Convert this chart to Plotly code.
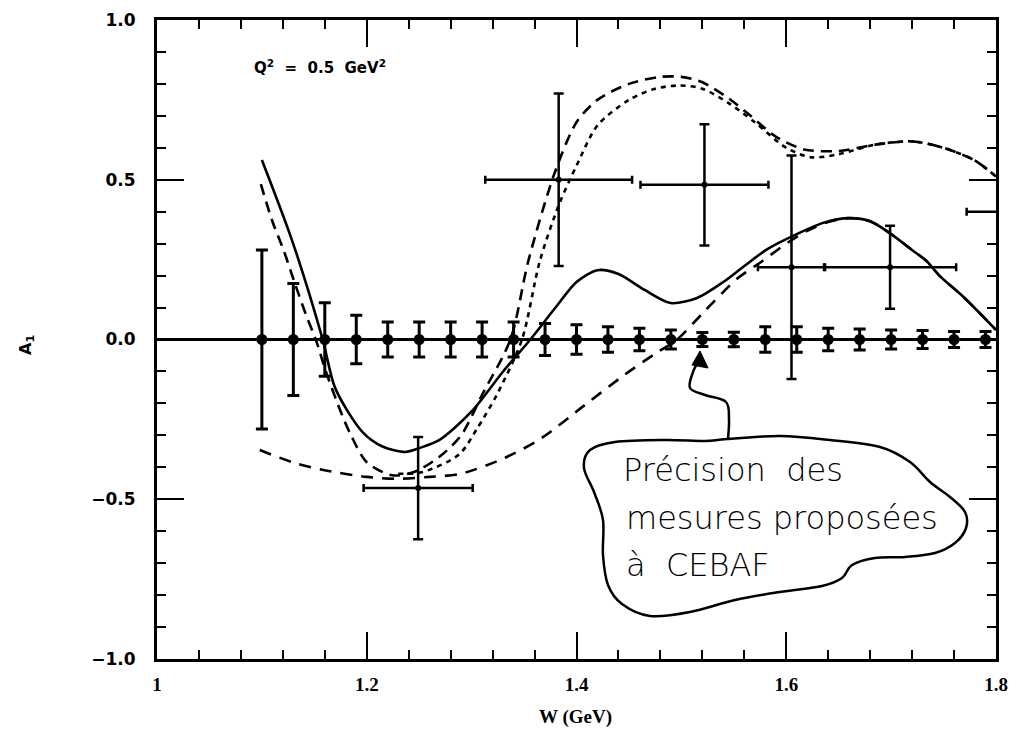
import plotly.graph_objects as go
import numpy as np

# ---------------- data ----------------
# projected precision of proposed CEBAF measurements (A1 = 0)
prec_W = [1.10, 1.13, 1.16, 1.19, 1.22, 1.25, 1.28, 1.31, 1.34, 1.37, 1.40, 1.43,
          1.46, 1.49, 1.52, 1.55, 1.58, 1.61, 1.64, 1.67, 1.70, 1.73, 1.76, 1.79]
prec_A = [0.0] * 24
prec_err = [0.28, 0.175, 0.115, 0.076, 0.055, 0.055, 0.055, 0.055, 0.055, 0.05, 0.046, 0.04,
            0.035, 0.03, 0.022, 0.023, 0.04, 0.04, 0.035, 0.033, 0.03, 0.028, 0.025, 0.025]

# existing data points
data_W = [1.249, 1.383, 1.522, 1.605, 1.699, 1.83]
data_A = [-0.465, 0.50, 0.484, 0.226, 0.226, 0.40]
data_dW = [0.052, 0.07, 0.061, 0.032, 0.063, 0.058]
data_dA = [0.16, 0.27, 0.19, 0.35, 0.13, 0.15]

# model curves
solid_W = [1.100, 1.129, 1.158, 1.170, 1.196, 1.215, 1.237, 1.250, 1.269, 1.300, 1.330, 1.356,
           1.380, 1.400, 1.420, 1.440, 1.465, 1.490, 1.515, 1.540, 1.560, 1.582, 1.610, 1.635,
           1.660, 1.680, 1.700, 1.720, 1.734, 1.746, 1.770, 1.800]
solid_A = [0.562, 0.308, 0.000, -0.153, -0.290, -0.335, -0.352, -0.340, -0.315, -0.225, -0.100, 0.000,
           0.100, 0.180, 0.217, 0.205, 0.155, 0.114, 0.130, 0.180, 0.230, 0.283, 0.330, 0.365,
           0.380, 0.370, 0.330, 0.280, 0.245, 0.200, 0.130, 0.030]

longdash_W = [1.099, 1.110, 1.121, 1.131, 1.142, 1.152, 1.161, 1.174, 1.185, 1.200, 1.224, 1.245,
              1.269, 1.290, 1.310, 1.337, 1.354, 1.379, 1.400, 1.420, 1.450, 1.480, 1.500, 1.520,
              1.545, 1.566, 1.590, 1.617, 1.650, 1.685, 1.720, 1.750, 1.780, 1.800]
longdash_A = [0.486, 0.370, 0.277, 0.180, 0.078, -0.006, -0.100, -0.216, -0.300, -0.384, -0.425, -0.415,
              -0.368, -0.300, -0.173, 0.000, 0.245, 0.520, 0.680, 0.750, 0.800, 0.822, 0.822, 0.805,
              0.755, 0.700, 0.635, 0.595, 0.590, 0.610, 0.620, 0.600, 0.560, 0.510]

dotted_W = [1.230, 1.253, 1.288, 1.305, 1.324, 1.348, 1.365, 1.383, 1.400, 1.420, 1.450, 1.475,
            1.498, 1.520, 1.545, 1.570, 1.600, 1.624, 1.650, 1.685, 1.720, 1.750, 1.780, 1.800]
dotted_A = [-0.420, -0.415, -0.360, -0.280, -0.173, 0.000, 0.245, 0.420, 0.544, 0.670, 0.750, 0.785,
            0.795, 0.785, 0.740, 0.680, 0.600, 0.570, 0.580, 0.610, 0.620, 0.600, 0.560, 0.510]

dash_W = [1.098, 1.130, 1.161, 1.200, 1.227, 1.260, 1.290, 1.332, 1.366, 1.408, 1.446, 1.477,
          1.496, 1.522, 1.553, 1.577, 1.600, 1.620, 1.640, 1.660, 1.680, 1.700, 1.720, 1.734,
          1.746, 1.770, 1.800]
dash_A = [-0.346, -0.385, -0.410, -0.430, -0.436, -0.430, -0.420, -0.370, -0.310, -0.205, -0.110, -0.040,
          0.000, 0.088, 0.190, 0.245, 0.300, 0.340, 0.368, 0.380, 0.370, 0.330, 0.280, 0.245,
          0.200, 0.130, 0.030]

x_ticks = [1.0, 1.2, 1.4, 1.6, 1.8]
x_ticktext = ["1", "1.2", "1.4", "1.6", "1.8"]
y_ticks = [-1.0, -0.5, 0.0, 0.5, 1.0]
y_ticktext = ["\u22121.0", "\u22120.5", "0.0", "0.5", "1.0"]

note_lines = ["Précision  des", "mesures proposées", "à  CEBAF"]
q2_label = "Q<sup>2</sup>  =  0.5  GeV<sup>2</sup>"

# ---------------- layout geometry ----------------
W_PX, H_PX = 1010, 731
ML, MR, MT, MB = 157, 14, 20, 72
XR = [1.0, 1.8]
YR = [-1.0, 1.0]


def px2d(px, py):
    """Convert page pixel to data coords (for hand-drawn decorations only)."""
    pw = W_PX - ML - MR
    ph = H_PX - MT - MB
    x = XR[0] + (px - ML) / pw * (XR[1] - XR[0])
    y = YR[1] - (py - MT) / ph * (YR[1] - YR[0])
    return x, y


def smooth_path(pts, closed=False):
    """Catmull-Rom spline through points -> SVG cubic path."""
    P = [np.array(p, dtype=float) for p in pts]
    n = len(P)
    segs = []
    rng = range(n) if closed else range(n - 1)
    for i in rng:
        p0 = P[(i - 1) % n] if closed or i > 0 else P[i]
        p1 = P[i]
        p2 = P[(i + 1) % n]
        p3 = P[(i + 2) % n] if closed or i + 2 < n else P[(i + 1) % n]
        c1 = p1 + (p2 - p0) / 6.0
        c2 = p2 - (p3 - p1) / 6.0
        segs.append(f"C {c1[0]:.5f},{c1[1]:.5f} {c2[0]:.5f},{c2[1]:.5f} {p2[0]:.5f},{p2[1]:.5f}")
    path = f"M {P[0][0]:.5f},{P[0][1]:.5f} " + " ".join(segs)
    if closed:
        path += " Z"
    return path


fig = go.Figure()

line_w = 2.6
fig.add_trace(go.Scatter(x=solid_W, y=solid_A, mode="lines",
                         line=dict(color="black", width=line_w, shape="spline", smoothing=0.8)))
fig.add_trace(go.Scatter(x=longdash_W, y=longdash_A, mode="lines",
                         line=dict(color="black", width=line_w, dash="11px,7px", shape="spline", smoothing=0.8)))
fig.add_trace(go.Scatter(x=dotted_W, y=dotted_A, mode="lines",
                         line=dict(color="black", width=line_w, dash="5px,5px", shape="spline", smoothing=0.8)))
fig.add_trace(go.Scatter(x=dash_W, y=dash_A, mode="lines",
                         line=dict(color="black", width=line_w, dash="12px,9px", shape="spline", smoothing=0.8)))

# precision points
fig.add_trace(go.Scatter(x=prec_W, y=prec_A, mode="markers",
                         marker=dict(color="black", size=11),
                         error_y=dict(type="data", array=prec_err, color="black", thickness=3, width=6)))

# existing data
fig.add_trace(go.Scatter(x=data_W, y=data_A, mode="markers",
                         marker=dict(color="black", size=6),
                         error_x=dict(type="data", array=data_dW, color="black", thickness=2.5, width=4),
                         error_y=dict(type="data", array=data_dA, color="black", thickness=2.5, width=5)))

# ---------------- callout bubble & arrow ----------------
bubble_px = [(727, 439), (780, 436), (830, 440), (880, 447), (910, 462), (930, 482), (950, 497),
             (965, 512), (966, 528), (955, 543), (935, 553), (905, 557), (875, 558), (852, 565),
             (842, 578), (822, 586), (780, 592), (735, 600), (690, 612), (650, 616), (622, 604),
             (608, 585), (603, 555), (603, 520), (594, 492), (584, 468), (590, 450), (615, 442),
             (665, 440), (705, 441)]
bubble = [px2d(*p) for p in bubble_px]
fig.add_shape(type="path", path=smooth_path(bubble, closed=True), xref="x", yref="y",
              line=dict(color="black", width=2.5), layer="above")

arrow_px = [(728, 439), (729, 420), (726, 402), (705, 395), (690, 388), (693, 372), (698, 362)]
arrow = [px2d(*p) for p in arrow_px]
fig.add_shape(type="path", path=smooth_path(arrow), xref="x", yref="y",
              line=dict(color="black", width=2.5), layer="above")
head_px = [(700, 351), (708, 368), (692, 365)]
head = [px2d(*p) for p in head_px]
fig.add_shape(type="path",
              path=f"M {head[0][0]},{head[0][1]} L {head[1][0]},{head[1][1]} L {head[2][0]},{head[2][1]} Z",
              xref="x", yref="y", fillcolor="black", line=dict(color="black", width=1), layer="above")

note_pos_px = [(621, 470), (624, 518), (624, 565)]
for txt, p in zip(note_lines, note_pos_px):
    nx, ny = px2d(*p)
    fig.add_annotation(x=nx, y=ny, xref="x", yref="y", text=txt, showarrow=False,
                       xanchor="left", yanchor="middle",
                       font=dict(family="DejaVu Sans", size=32, color="black", weight=300))

qx, qy = px2d(252, 67)
fig.add_annotation(x=qx, y=qy, xref="x", yref="y", text=q2_label, showarrow=False,
                   xanchor="left", yanchor="middle",
                   font=dict(family="DejaVu Sans", size=15, color="black", weight="bold"))

# axis titles
fig.add_annotation(x=(575 - ML) / (W_PX - ML - MR), y=(H_PX - MB - 717) / (H_PX - MT - MB),
                   xref="paper", yref="paper", text="W (GeV)", showarrow=False,
                   xanchor="center", yanchor="middle",
                   font=dict(family="Liberation Serif", size=19, color="black", weight="bold"))
fig.add_annotation(x=(26 - ML) / (W_PX - ML - MR), y=(H_PX - MB - 345) / (H_PX - MT - MB),
                   xref="paper", yref="paper", text="A<sub>1</sub>", showarrow=False,
                   textangle=-90, xanchor="center", yanchor="middle",
                   font=dict(family="DejaVu Sans", size=16, color="black", weight="bold"))

fig.update_layout(
    width=W_PX, height=H_PX,
    margin=dict(l=ML, r=MR, t=MT, b=MB, autoexpand=False),
    paper_bgcolor="white", plot_bgcolor="white",
    showlegend=False,
    xaxis=dict(range=XR, tickvals=x_ticks, ticktext=x_ticktext, automargin=False,
               ticklabeloverflow="allow", ticklabelstandoff=6,
               ticks="inside", ticklen=27, tickwidth=2, tickcolor="black",
               showline=True, linewidth=3, linecolor="black", mirror="allticks",
               showgrid=False, zeroline=False,
               tickfont=dict(family="Liberation Serif", size=19, color="black", weight="bold"),
               minor=dict(dtick=0.04, ticks="inside", ticklen=9, tickwidth=2, tickcolor="black", showgrid=False)),
    yaxis=dict(range=YR, tickvals=y_ticks, ticktext=y_ticktext, automargin=False,
               ticklabeloverflow="allow", ticklabelstandoff=15,
               ticks="inside", ticklen=27, tickwidth=2, tickcolor="black",
               showline=True, linewidth=3, linecolor="black", mirror="allticks",
               showgrid=False, zeroline=True, zerolinewidth=3, zerolinecolor="black",
               tickfont=dict(family="DejaVu Sans", size=17, color="black", weight="bold"),
               minor=dict(dtick=0.1, ticks="inside", ticklen=9, tickwidth=2, tickcolor="black", showgrid=False)),
)

fig.write_html("out.html", config={"displayModeBar": False},
               post_script="document.body.style.margin='0';document.body.style.padding='0';"
                           "document.body.style.overflow='hidden';")
